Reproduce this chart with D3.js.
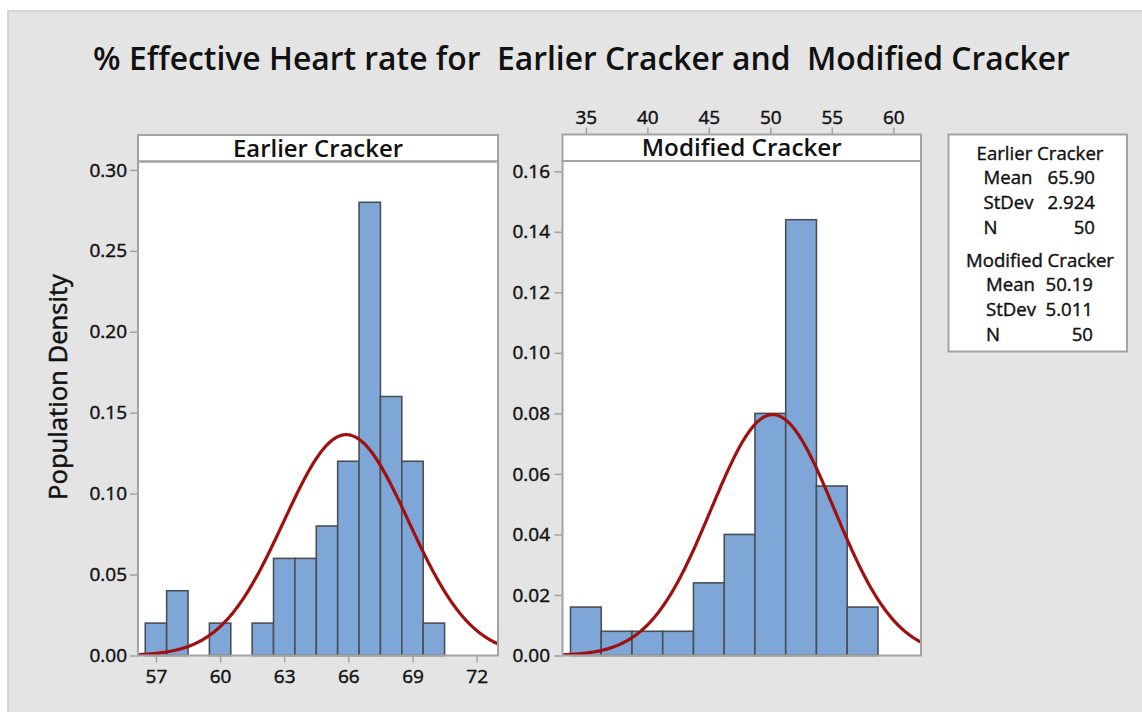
<!DOCTYPE html>
<html>
<head>
<meta charset="utf-8">
<script src="https://cdn.jsdelivr.net/npm/d3@7"></script>
<style>
  html, body { margin: 0; padding: 0; background: #ffffff; }
  svg { display: block; font-family: "Open Sans", "Noto Sans", sans-serif; }
</style>
</head>
<body>
<svg id="chart" width="1142" height="712"></svg>
<script>
// ---------------- data ----------------
const titleText = "% Effective Heart rate for  Earlier Cracker and  Modified Cracker";
const yAxisLabel = "Population Density";

const earlierName = "Earlier Cracker";
const earlierBinCenters = [57, 58, 59, 60, 61, 62, 63, 64, 65, 66, 67, 68, 69, 70];
const earlierDensity    = [0.02, 0.04, 0, 0.02, 0, 0.02, 0.06, 0.06, 0.08, 0.12, 0.28, 0.16, 0.12, 0.02];
const earlierBinWidth = 1;
const earlierXTicks = [57, 60, 63, 66, 69, 72];
const earlierYTicks = [0.00, 0.05, 0.10, 0.15, 0.20, 0.25, 0.30];
const earlierMean = 65.90, earlierStDev = 2.924, earlierN = 50;

const modifiedName = "Modified Cracker";
const modifiedBinCenters = [35, 37.5, 40, 42.5, 45, 47.5, 50, 52.5, 55, 57.5];
const modifiedDensity    = [0.016, 0.008, 0.008, 0.008, 0.024, 0.04, 0.08, 0.144, 0.056, 0.016];
const modifiedBinWidth = 2.5;
const modifiedXTicks = [35, 40, 45, 50, 55, 60];
const modifiedYTicks = [0.00, 0.02, 0.04, 0.06, 0.08, 0.10, 0.12, 0.14, 0.16];
const modifiedMean = 50.19, modifiedStDev = 5.011, modifiedN = 50;

// ---------------- drawing ----------------
const svg = d3.select("#chart");
const FRAME = "#a3a3a3";
const BAR_FILL = "#7ea7d8";
const BAR_STROKE = "#4b4f55";
const CURVE = "#a01010";
const INK = "#111111";
const TICK_FS = 19;

function fitWidth(sel, target) {
  const w = sel.node().getComputedTextLength();
  const fs = +sel.attr("font-size");
  sel.attr("font-size", fs * target / w);
  return fs * target / w;
}
function thicken(sel, w) {
  sel.attr("stroke", INK).attr("stroke-width", w).attr("paint-order", "stroke");
}

svg.append("rect").attr("x", 8).attr("y", 11).attr("width", 1142).attr("height", 712)
  .attr("fill", "#e4e4e4").attr("stroke", "#cbcbcb").attr("stroke-width", 1.5);

// title
const title = svg.append("text").attr("x", 581.5).attr("y", 70)
  .attr("text-anchor", "middle").attr("font-size", 30).attr("font-weight", 600)
  .attr("fill", INK).attr("xml:space", "preserve").style("white-space", "pre")
  .text(titleText);
fitWidth(title, 977);

// y label
const yl = svg.append("text").attr("transform", "translate(66.5,387) rotate(-90)")
  .attr("text-anchor", "middle").attr("font-size", 22).attr("fill", INK)
  .text(yAxisLabel);
fitWidth(yl, 226);
thicken(yl, 0.5);

function normalPdf(x, m, s) {
  return Math.exp(-0.5 * ((x - m) / s) ** 2) / (s * Math.sqrt(2 * Math.PI));
}

function styleTicks(g) {
  g.select(".domain").remove();
  g.selectAll("line").attr("stroke", FRAME).attr("stroke-width", 1.5);
  const t = g.selectAll("text").attr("font-size", TICK_FS).attr("fill", INK)
    .attr("font-family", "\"Open Sans\", sans-serif");
  thicken(t, 0.45);
}

function panel(opts) {
  const { id, left, right, headerTop, plotTop, bottom, xDomain, yDomain,
          centers, dens, bw, xTicks, yTicks, yFmt, mean, sd, name, nameWidth,
          topAxis, yPad } = opts;
  const x = d3.scaleLinear().domain(xDomain).range([left, right]);
  const y = d3.scaleLinear().domain(yDomain).range([bottom, plotTop]);
  const g = svg.append("g");

  g.append("rect").attr("x", left).attr("y", plotTop).attr("width", right - left)
    .attr("height", bottom - plotTop).attr("fill", "#ffffff");

  svg.append("clipPath").attr("id", id).append("rect")
    .attr("x", left).attr("y", plotTop).attr("width", right - left).attr("height", bottom - plotTop);

  // bars
  const bins = centers.map((c, i) => ({ c, d: dens[i] })).filter(b => b.d > 0);
  g.append("g").selectAll("rect").data(bins).join("rect")
    .attr("x", b => x(b.c - bw / 2))
    .attr("width", b => x(b.c + bw / 2) - x(b.c - bw / 2))
    .attr("y", b => y(b.d))
    .attr("height", b => y(0) - y(b.d))
    .attr("fill", BAR_FILL).attr("stroke", BAR_STROKE).attr("stroke-width", 1.6);

  // fitted normal curve
  const xs = d3.range(0, 301).map(i => xDomain[0] + (xDomain[1] - xDomain[0]) * i / 300);
  g.append("path").datum(xs)
    .attr("clip-path", `url(#${id})`)
    .attr("d", d3.line().x(v => x(v)).y(v => y(normalPdf(v, mean, sd))))
    .attr("fill", "none").attr("stroke", CURVE).attr("stroke-width", 3.2);

  // header strip
  g.append("rect").attr("x", left).attr("y", headerTop).attr("width", right - left)
    .attr("height", plotTop - headerTop).attr("fill", "#ffffff")
    .attr("stroke", FRAME).attr("stroke-width", 2);
  const ht = g.append("text").attr("x", (left + right) / 2).attr("y", plotTop - 5)
    .attr("text-anchor", "middle").attr("font-size", 22).attr("font-weight", 600)
    .attr("fill", INK).text(name);
  fitWidth(ht, nameWidth);

  // frame
  g.append("rect").attr("x", left).attr("y", plotTop).attr("width", right - left)
    .attr("height", bottom - plotTop).attr("fill", "none")
    .attr("stroke", FRAME).attr("stroke-width", 2);

  // y axis
  const ya = d3.axisLeft(y).tickValues(yTicks).tickFormat(yFmt).tickSize(8).tickPadding(yPad);
  styleTicks(g.append("g").attr("transform", `translate(${left},0)`).call(ya));

  // x axis
  if (topAxis) {
    const xa = d3.axisTop(x).tickValues(xTicks).tickFormat(d3.format("d")).tickSize(7).tickPadding(3.5);
    styleTicks(g.append("g").attr("transform", `translate(0,${headerTop})`).call(xa));
  } else {
    const xa = d3.axisBottom(x).tickValues(xTicks).tickFormat(d3.format("d")).tickSize(7).tickPadding(7);
    styleTicks(g.append("g").attr("transform", `translate(0,${bottom})`).call(xa));
  }
}

panel({
  id: "clipL", left: 138, right: 498, headerTop: 135, plotTop: 161.5, bottom: 655.5,
  xDomain: [56.16, 73.0], yDomain: [0, 0.3052],
  centers: earlierBinCenters, dens: earlierDensity, bw: earlierBinWidth,
  xTicks: earlierXTicks, yTicks: earlierYTicks, yFmt: d3.format(".2f"),
  mean: earlierMean, sd: earlierStDev, name: earlierName, nameWidth: 170,
  topAxis: false, yPad: 3
});

panel({
  id: "clipR", left: 562.5, right: 921, headerTop: 134.5, plotTop: 161, bottom: 655.5,
  xDomain: [33.1, 62.25], yDomain: [0, 0.1634],
  centers: modifiedBinCenters, dens: modifiedDensity, bw: modifiedBinWidth,
  xTicks: modifiedXTicks, yTicks: modifiedYTicks, yFmt: d3.format(".2f"),
  mean: modifiedMean, sd: modifiedStDev, name: modifiedName, nameWidth: 200,
  topAxis: true, yPad: 4.5
});

// legend box
const lg = svg.append("g");
lg.append("rect").attr("x", 948.5).attr("y", 134.5).attr("width", 178.5).attr("height", 217)
  .attr("fill", "#ffffff").attr("stroke", FRAME).attr("stroke-width", 2);

const probe = lg.append("text").attr("font-size", 17).text(earlierName);
const LEG_FS = fitWidth(probe, 127);
probe.remove();

function legendBlock(name, mean, sd, n, y0, xl, xr) {
  const all = [];
  all.push(lg.append("text").attr("x", 1040).attr("y", y0).attr("text-anchor", "middle").text(name));
  const rows = [["Mean", mean.toFixed(2)], ["StDev", sd.toFixed(3)], ["N", String(n)]];
  const gaps = [24.5, 49, 74.5];
  rows.forEach((r, i) => {
    const yy = y0 + gaps[i];
    all.push(lg.append("text").attr("x", xl).attr("y", yy).text(r[0]));
    all.push(lg.append("text").attr("x", xr).attr("y", yy).attr("text-anchor", "end").text(r[1]));
  });
  all.forEach(t => { t.attr("font-size", LEG_FS).attr("fill", INK); thicken(t, 0.4); });
}
legendBlock(earlierName, earlierMean, earlierStDev, earlierN, 159.5, 983.5, 1095);
legendBlock(modifiedName, modifiedMean, modifiedStDev, modifiedN, 266.5, 986, 1093);
</script>
</body>
</html>
